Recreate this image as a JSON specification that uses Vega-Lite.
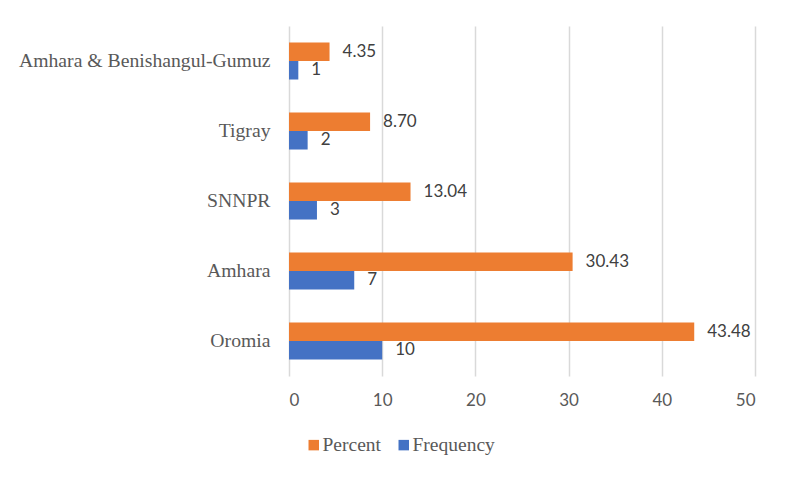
{
  "$schema": "https://vega.github.io/schema/vega-lite/v6.json",
  "width": 466,
  "height": 350,
  "autosize": {"type": "none"},
  "padding": {"left": 289, "top": 26, "right": 37, "bottom": 101},
  "background": "white",
  "config": {"view": {"stroke": null}},
  "data": {
    "values": [
      {"region": "Amhara & Benishangul-Gumuz", "series": "Percent", "value": 4.35, "label": "4.35"},
      {"region": "Amhara & Benishangul-Gumuz", "series": "Frequency", "value": 1, "label": "1"},
      {"region": "Tigray", "series": "Percent", "value": 8.70, "label": "8.70"},
      {"region": "Tigray", "series": "Frequency", "value": 2, "label": "2"},
      {"region": "SNNPR", "series": "Percent", "value": 13.04, "label": "13.04"},
      {"region": "SNNPR", "series": "Frequency", "value": 3, "label": "3"},
      {"region": "Amhara", "series": "Percent", "value": 30.43, "label": "30.43"},
      {"region": "Amhara", "series": "Frequency", "value": 7, "label": "7"},
      {"region": "Oromia", "series": "Percent", "value": 43.48, "label": "43.48"},
      {"region": "Oromia", "series": "Frequency", "value": 10, "label": "10"}
    ]
  },
  "encoding": {
    "y": {
      "field": "region",
      "type": "nominal",
      "sort": ["Amhara & Benishangul-Gumuz", "Tigray", "SNNPR", "Amhara", "Oromia"],
      "scale": {"paddingInner": 0.471, "paddingOuter": 0.2355},
      "axis": {
        "title": null,
        "domain": false,
        "ticks": false,
        "labelFont": "Liberation Serif",
        "labelFontSize": 19.7,
        "labelColor": "#595959",
        "labelPadding": 19,
        "labelLimit": 400
      }
    },
    "yOffset": {
      "field": "series",
      "type": "nominal",
      "sort": ["Percent", "Frequency"],
      "scale": {"paddingInner": 0, "paddingOuter": 0}
    },
    "x": {
      "field": "value",
      "type": "quantitative",
      "scale": {"domain": [0, 50]},
      "axis": {
        "title": null,
        "values": [0, 10, 20, 30, 40, 50],
        "domain": false,
        "ticks": false,
        "grid": true,
        "gridColor": "#d9d9d9",
        "gridWidth": 1.5,
        "labelFont": "Lato",
        "labelFontSize": 17,
        "labelColor": "#595959",
        "labelPadding": 16
      }
    }
  },
  "layer": [
    {
      "mark": {"type": "bar"},
      "encoding": {
        "color": {
          "field": "series",
          "type": "nominal",
          "sort": ["Percent", "Frequency"],
          "scale": {"domain": ["Percent", "Frequency"], "range": ["#ED7D31", "#4472C4"]},
          "legend": {
            "title": null,
            "orient": "none",
            "direction": "horizontal",
            "legendX": 15,
            "legendY": 409,
            "symbolType": "square",
            "symbolSize": 110,
            "symbolStrokeWidth": 0,
            "labelFont": "Liberation Serif",
            "labelFontSize": 19.5,
            "labelColor": "#595959",
            "labelOffset": -1,
            "columnPadding": 13
          }
        }
      }
    },
    {
      "mark": {"type": "text", "align": "left", "baseline": "middle", "dx": 13, "font": "Lato", "fontSize": 17, "color": "#404040"},
      "encoding": {"text": {"field": "label", "type": "nominal"}}
    }
  ]
}
